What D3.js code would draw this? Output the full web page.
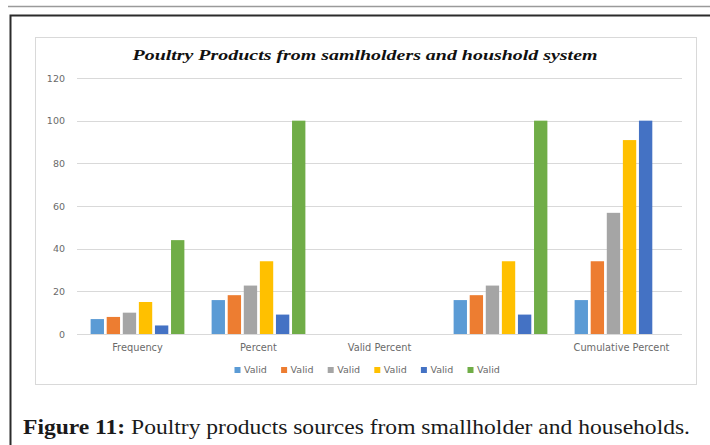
<!DOCTYPE html>
<html>
<head>
<meta charset="utf-8">
<script src="https://cdn.jsdelivr.net/npm/d3@7"></script>
<style>
  html, body { margin: 0; padding: 0; background: #fff; }
  svg { display: block; }
</style>
</head>
<body>
<svg id="chart" width="710" height="445"></svg>
<script>
// Categories along the x axis (the fourth group has no label)
const categories = ["Frequency", "Percent", "Valid Percent", "", "Cumulative Percent"];
const yTicks = [0, 20, 40, 60, 80, 100, 120];

// Six series, all named "Valid"
const seriesNames = ["Valid", "Valid", "Valid", "Valid", "Valid", "Valid"];
const seriesColors = ["#5b9bd5", "#ed7d31", "#a5a5a5", "#ffc000", "#4472c4", "#70ad47"];

// Values per series across the five categories (null = no bar)
const series1 = [7, 15.9, null, 15.9, 15.9];
const series2 = [8, 18.2, null, 18.2, 34.1];
const series3 = [10, 22.7, null, 22.7, 56.8];
const series4 = [15, 34.1, null, 34.1, 90.9];
const series5 = [4, 9.1, null, 9.1, 100];
const series6 = [44, 100, null, 100, null];
const seriesValues = [series1, series2, series3, series4, series5, series6];

const titleText = "Poultry Products from samlholders and houshold system";
const captionBold = "Figure 11:";
const captionRest = " Poultry products sources from smallholder and households.";

const svg = d3.select("#chart");

// Page rule and figure frame
svg.append("line").attr("x1", 8).attr("x2", 710).attr("y1", 6.5).attr("y2", 6.5)
  .attr("stroke", "#9a9a9a").attr("stroke-width", 1.5);
svg.append("path").attr("d", "M10.5,460 V15.5 H712")
  .attr("fill", "none").attr("stroke", "#2b2b2b").attr("stroke-width", 2);

// Chart area border
svg.append("rect").attr("x", 35.5).attr("y", 37.5).attr("width", 661).attr("height", 347)
  .attr("fill", "#fff").attr("stroke", "#d9d9d9").attr("stroke-width", 1);

// Title
svg.append("text")
  .attr("x", 365).attr("y", 60)
  .attr("text-anchor", "middle")
  .attr("font-family", "Liberation Serif, serif")
  .attr("font-weight", "bold").attr("font-style", "italic")
  .attr("font-size", 15)
  .attr("textLength", 465).attr("lengthAdjust", "spacingAndGlyphs")
  .attr("fill", "#111")
  .text(titleText);

// Scales
const plot = { left: 77, right: 682, top: 78, bottom: 334 };
const x0 = d3.scaleBand().domain(categories).range([plot.left, plot.right]);
const half = 48.25;
const x1 = d3.scaleBand().domain(d3.range(seriesNames.length))
  .range([x0.bandwidth() / 2 - half, x0.bandwidth() / 2 + half])
  .paddingInner(0.17).paddingOuter(0.085);
const y = d3.scaleLinear().domain([0, 120]).range([plot.bottom, plot.top]);

// Gridlines
svg.append("g").selectAll("line").data(yTicks).join("line")
  .attr("x1", plot.left).attr("x2", plot.right)
  .attr("y1", d => Math.round(y(d)) + 0.5).attr("y2", d => Math.round(y(d)) + 0.5)
  .attr("stroke", "#d9d9d9").attr("stroke-width", 1);

// Y axis labels
const yAxis = svg.append("g").attr("transform", `translate(${plot.left - 12},0)`)
  .call(d3.axisLeft(y).tickValues(yTicks).tickSize(0).tickPadding(0));
yAxis.select(".domain").remove();
yAxis.selectAll("text")
  .attr("font-family", "DejaVu Sans, sans-serif").attr("font-size", 9.5)
  .attr("fill", "#6a6a6a");

// X axis labels
const xAxis = svg.append("g").attr("transform", `translate(0,${plot.bottom + 10})`)
  .call(d3.axisBottom(x0).tickSize(0).tickPadding(0));
xAxis.select(".domain").remove();
xAxis.selectAll("text")
  .attr("dy", "0.71em")
  .attr("font-family", "DejaVu Sans, sans-serif").attr("font-size", 9.8)
  .attr("fill", "#6a6a6a");

// Bars
const barData = [];
seriesValues.forEach((vals, si) => {
  vals.forEach((v, ci) => {
    if (v != null) barData.push({ si, cat: categories[ci], v });
  });
});
svg.append("g").selectAll("rect").data(barData).join("rect")
  .attr("x", d => x0(d.cat) + x1(d.si))
  .attr("width", x1.bandwidth())
  .attr("y", d => y(d.v))
  .attr("height", d => y(0) - y(d.v))
  .attr("fill", d => seriesColors[d.si]);

// Legend
const legendX0 = 234.5, legendStep = 46.6, legendY = 370;
const legend = svg.append("g").selectAll("g").data(seriesNames).join("g")
  .attr("transform", (d, i) => `translate(${legendX0 + i * legendStep},${legendY})`);
legend.append("rect").attr("x", 0).attr("y", -3).attr("width", 6).attr("height", 6)
  .attr("fill", (d, i) => seriesColors[i]);
legend.append("text").attr("x", 9.5).attr("y", 0).attr("dy", "0.35em")
  .attr("font-family", "DejaVu Sans, sans-serif").attr("font-size", 9.5)
  .attr("fill", "#6a6a6a")
  .text(d => d);

// Caption
const cap = svg.append("text")
  .attr("x", 23).attr("y", 434)
  .attr("font-family", "Liberation Serif, serif").attr("font-size", 21)
  .attr("textLength", 667).attr("lengthAdjust", "spacingAndGlyphs")
  .attr("fill", "#1a1a1a");
cap.append("tspan").attr("font-weight", "bold").text(captionBold);
cap.append("tspan").text(captionRest);
</script>
</body>
</html>
